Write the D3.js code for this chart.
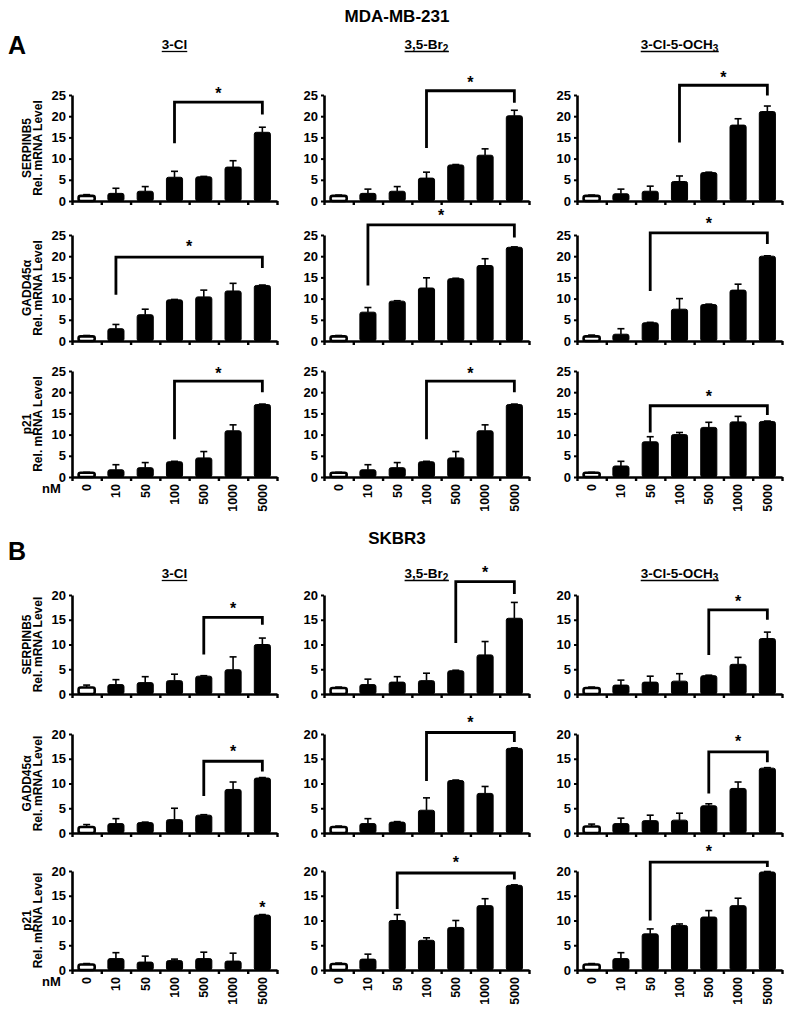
<!DOCTYPE html>
<html><head><meta charset="utf-8">
<script src="https://cdn.jsdelivr.net/npm/d3@7"></script>
<style>
body{margin:0;background:#fff;}
text{font-family:"Liberation Sans",Arial,sans-serif;font-weight:bold;fill:#000;}
</style></head><body>
<svg id="c" width="793" height="1023"></svg>
<script>
// ---------- data ----------
const concentrations = ["0","10","50","100","500","1000","5000"];
const compoundNames = [["3-Cl",""],["3,5-Br","2"],["3-Cl-5-OCH","3"]];
const genes = ["SERPINB5","GADD45\u03b1","p21"];
const cellLines = ["MDA-MB-231","SKBR3"];
const sectionLetters = ["A","B"];
const yTicksA = [0,5,10,15,20,25];
const yTicksB = [0,5,10,15,20];

// MDA-MB-231 means [gene][compound][concentration]
const mdaMeans = [
  [[1.2,1.8,2.3,5.6,5.7,8.0,16.2],[1.2,1.8,2.3,5.4,8.5,10.8,20.1],[1.2,1.7,2.3,4.6,6.7,17.9,21.1]],
  [[1.1,2.9,6.2,9.7,10.4,11.8,13.1],[1.1,6.8,9.4,12.5,14.7,17.8,22.1],[1.1,1.6,4.3,7.5,8.6,12.0,20.0]],
  [[1.0,1.7,2.2,3.6,4.5,10.9,17.1],[1.0,1.7,2.2,3.6,4.5,10.9,17.1],[1.0,2.6,8.3,10.0,11.7,13.0,13.1]]
];
const mdaErrors = [
  [[0.3,1.2,1.1,1.4,0.1,1.5,1.2],[0.2,1.0,1.1,1.4,0.1,1.5,1.3],[0.2,1.1,1.2,1.3,0.1,1.5,1.3]],
  [[0.2,1.0,1.3,0.1,1.6,1.8,0.1],[0.2,1.1,0.1,2.4,0.1,1.6,0.1],[0.3,1.3,0.1,2.5,0.1,1.4,0.1]],
  [[0.1,1.2,1.2,0.1,1.5,1.4,0.1],[0.1,1.2,1.2,0.1,1.5,1.4,0.1],[0.1,1.1,1.2,0.5,1.2,1.3,0.1]]
];
// SKBR3
const skbrMeans = [
  [[1.3,1.9,2.3,2.7,3.6,4.9,10.0],[1.2,1.9,2.4,2.7,4.7,7.9,15.3],[1.2,1.8,2.4,2.6,3.7,6.0,11.2]],
  [[1.2,1.9,2.1,2.7,3.6,8.8,11.1],[1.2,1.9,2.2,4.6,10.6,8.0,17.1],[1.3,1.9,2.5,2.6,5.5,9.0,13.1]],
  [[1.1,2.3,1.6,1.9,2.3,1.8,11.1],[1.2,2.2,10.0,6.0,8.6,13.0,17.1],[1.1,2.3,7.3,9.0,10.7,13.0,19.8]]
];
const skbrErrors = [
  [[0.5,1.0,1.2,1.3,0.1,2.6,1.3],[0.2,1.1,1.1,1.5,0.1,2.7,3.2],[0.2,1.0,1.2,1.5,0.1,1.4,1.3]],
  [[0.5,1.0,0.1,2.3,0.1,1.5,0.1],[0.2,1.0,0.1,2.5,0.1,1.4,0.1],[0.5,1.1,1.1,1.4,0.4,1.3,0.1]],
  [[0.2,1.2,1.2,0.3,1.3,1.6,0.1],[0.2,1.0,1.2,0.5,1.4,1.4,0.1],[0.2,1.2,1.0,0.3,1.3,1.5,0.1]]
];
// significance brackets: [fromIdx, toIdx, leftEnd, rightEnd, bracketLevel, starLevel]; fromIdx null => star only
const mdaBrackets = [
  [[3,6,13.6,20.4,23.3,26.0],[3,6,12.5,23.2,26.0,28.7],[3,6,13.8,24.9,27.3,29.8]],
  [[1,6,10.9,17.2,19.8,23.0],[1,6,13.1,24.4,27.4,30.2],[2,6,11.8,22.9,25.5,28.5]],
  [[3,6,8.9,20.0,22.6,25.2],[3,6,8.9,20.0,22.6,25.2],[2,6,10.5,14.6,16.8,19.6]]
];
const skbrBrackets = [
  [[4,6,8.0,14.0,15.5,17.8],[4,6,10.3,20.2,22.7,25.2],[4,6,7.9,15.0,17.0,19.3]],
  [[4,6,7.5,12.4,14.5,17.0],[3,6,10.5,18.4,20.3,23.0],[4,6,8.0,14.3,16.4,19.0]],
  [[null,6,0,0,0,13.2],[2,6,12.3,18.3,19.6,22.3],[2,6,10.0,20.8,21.8,24.5]]
];

// ---------- layout ----------
const svg = d3.select("#c");
const colX = [72, 324, 577];
const plotW = 205;
const sections = [
  {means: mdaMeans, errs: mdaErrors, brackets: mdaBrackets, ticks: yTicksA,
   rowTops:[95,235,371], plotH:106, titleY:22, letterY:54, colTitleY:49},
  {means: skbrMeans, errs: skbrErrors, brackets: skbrBrackets, ticks: yTicksB,
   rowTops:[595,734,871], plotH:99, titleY:544, letterY:560, colTitleY:578}
];

sections.forEach((sec, si) => {
  svg.append("text").attr("x", 397).attr("y", sec.titleY)
    .attr("text-anchor","middle").style("font-size","17px").text(cellLines[si]);
  svg.append("text").attr("x", 8).attr("y", sec.letterY)
    .style("font-size","25px").text(sectionLetters[si]);

  compoundNames.forEach((cn, ci) => {
    const cx = colX[ci] + plotW/2;
    const t = svg.append("text").attr("x", cx).attr("y", sec.colTitleY)
      .attr("text-anchor","middle").style("font-size","13.5px");
    t.append("tspan").text(cn[0]);
    if (cn[1]) t.append("tspan").attr("dy", 3).style("font-size","10px").text(cn[1]);
    const bb = t.node().getBBox();
    svg.append("line").attr("x1", bb.x).attr("x2", bb.x + bb.width)
      .attr("y1", sec.colTitleY + 2.5).attr("y2", sec.colTitleY + 2.5)
      .attr("stroke","#000").attr("stroke-width",1.3);
  });

  const yMax = sec.ticks[sec.ticks.length-1];
  genes.forEach((gene, gi) => {
    const top = sec.rowTops[gi];
    const bottom = top + sec.plotH;
    const y = d3.scaleLinear().domain([0, yMax]).range([bottom, top]);
    compoundNames.forEach((cn, ci) => {
      const x0 = colX[ci];
      const g = svg.append("g").attr("transform", `translate(${x0},0)`);
      const x = d3.scaleBand().domain(concentrations).range([0, plotW])
        .paddingInner(0.45).paddingOuter(0.225);
      const xb = d3.scaleLinear().domain([0, concentrations.length]).range([0, plotW]);
      const means = sec.means[gi][ci], errs = sec.errs[gi][ci];
      const data = concentrations.map((c, i) => ({c, i, m: means[i], e: errs[i]}));

      // error bars
      const eg = g.append("g").attr("stroke","#000").attr("stroke-width",1.6);
      data.forEach(d => {
        const cx = x(d.c) + x.bandwidth()/2;
        eg.append("line").attr("x1",cx).attr("x2",cx).attr("y1",y(d.m)).attr("y2",y(d.m+d.e));
        eg.append("line").attr("x1",cx-3.5).attr("x2",cx+3.5).attr("y1",y(d.m+d.e)).attr("y2",y(d.m+d.e));
      });
      // bars
      g.selectAll("rect.bar").data(data).join("rect").attr("class","bar")
        .attr("x", d => x(d.c)).attr("width", x.bandwidth())
        .attr("y", d => y(d.m)).attr("height", d => y(0) - y(d.m))
        .attr("rx", 2)
        .attr("fill", d => d.i === 0 ? "#fff" : "#000")
        .attr("stroke","#000").attr("stroke-width", d => d.i === 0 ? 2.6 : 1);

      // y axis
      const ya = g.append("g").call(d3.axisLeft(y).tickValues(sec.ticks).tickSize(3).tickSizeOuter(0).tickPadding(3));
      ya.select(".domain").attr("stroke-width",2.6);
      ya.selectAll(".tick line").attr("stroke-width",2);
      ya.selectAll(".tick text").style("font-size","13px").style("font-family",'"Liberation Sans",Arial,sans-serif').style("font-weight","bold");

      // x axis with boundary ticks
      const xa = g.append("g").attr("transform",`translate(0,${bottom})`)
        .call(d3.axisBottom(xb).tickValues(d3.range(concentrations.length+1)).tickSize(4).tickSizeOuter(0).tickFormat(""));
      xa.select(".domain").attr("stroke-width",2.6);
      xa.selectAll(".tick line").attr("stroke-width",2.4);

      // significance
      const br = sec.brackets[gi][ci];
      if (br) {
        const xR = x(concentrations[br[1]]) + x.bandwidth()/2;
        let starX = xR;
        if (br[0] !== null) {
          const xL = x(concentrations[br[0]]) + x.bandwidth()/2;
          g.append("path").attr("d", `M${xL},${y(br[2])}V${y(br[4])}H${xR}V${y(br[3])}`)
            .attr("fill","none").attr("stroke","#000").attr("stroke-width",2.8)
            .attr("stroke-linejoin","miter");
          starX = (xL + xR)/2;
        }
        g.append("text").attr("x", starX).attr("y", y(br[5]) + 8.5)
          .attr("text-anchor","middle").style("font-size","16px").text("*");
      }

      // y labels on first column
      if (ci === 0) {
        const my = (top + bottom)/2;
        g.append("text").attr("transform", `translate(-41,${my}) rotate(-90)`)
          .attr("text-anchor","middle").style("font-size","12px").text(gene);
        g.append("text").attr("transform", `translate(-30,${my}) rotate(-90)`)
          .attr("text-anchor","middle").style("font-size","12px").text("Rel. mRNA Level");
      }
      // concentration labels on bottom row
      if (gi === genes.length - 1) {
        data.forEach(d => {
          const cx = x(d.c) + x.bandwidth()/2;
          g.append("text").attr("transform", `translate(${cx},${bottom+7}) rotate(-90)`)
            .attr("text-anchor","end").attr("dy","0.35em").style("font-size","12.5px").text(d.c);
        });
        if (ci === 0) {
          g.append("text").attr("x", -30).attr("y", bottom + 16).style("font-size","13px").text("nM");
        }
      }
    });
  });
});
</script>
</body></html>
